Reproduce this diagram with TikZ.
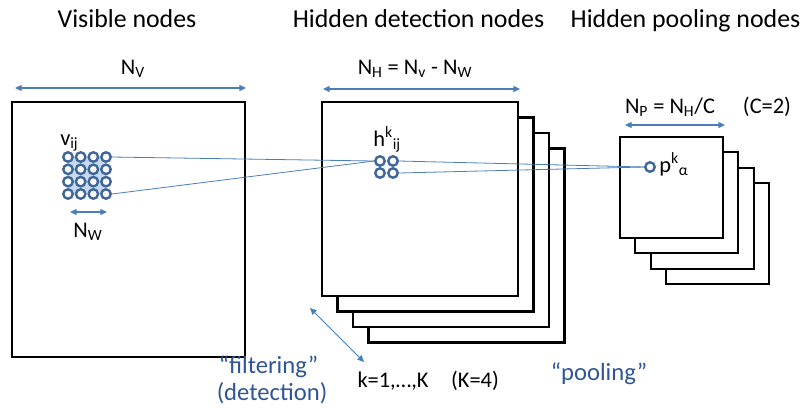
\documentclass[tikz,border=0pt]{standalone}
\usepackage{fontspec}
\setmainfont{Carlito}
\usetikzlibrary{arrows.meta}
\definecolor{arrblue}{HTML}{4A7EBB}
\definecolor{nodeblue}{HTML}{3F6699}
\definecolor{txtblue}{HTML}{2F5597}
\definecolor{fillblue}{HTML}{C6D9F1}
\tikzset{
  title/.style={font=\fontsize{19.4}{22}\selectfont, inner sep=0pt, anchor=base},
  lbl/.style={font=\fontsize{16.8}{20}\selectfont, inner sep=0pt, anchor=base},
  bluelbl/.style={font=\fontsize{18.5}{22}\selectfont, text=txtblue, inner sep=0pt, anchor=base},
  dimarrow/.style={draw=arrblue, line width=0.9pt, {Triangle[length=5pt,width=4.5pt]}-{Triangle[length=5pt,width=4.5pt]}},
  sheet/.style={draw=black, line width=2pt, fill=white},
  unit/.style={circle, draw=nodeblue, line width=1.8pt, fill=white, minimum size=7.1pt, inner sep=0pt},
  link/.style={draw=arrblue, line width=0.6pt},
}
\begin{document}
\begin{tikzpicture}[x=0.75pt,y=-0.75pt]
\useasboundingbox (0,0) rectangle (805,408);

% titles
\node[title] (tv) at (127,27) {Visible nodes};
\node[title] (th) at (418.5,27) {Hidden detection nodes};
\node[title] (tp) at (685.5,27) {Hidden pooling nodes};

% visible layer
\draw[sheet] (12,102) rectangle (245,357);
\coordinate (nvl) at (15,88);
\coordinate (nvr) at (246,88);
\draw[dimarrow] (nvl) -- (nvr);
\node[lbl] (nv) at (133,74) {N\textsubscript{V}};

\fill[fillblue] (68,157) rectangle (106,194);
\foreach \i in {1,...,4} {
  \foreach \j in {1,...,4} {
    \node[unit] (v\j\i) at ({68+(\i-1)*12.67},{157+(\j-1)*12.33}) {};
  }
}
\node[lbl, anchor=base west] (vlab) at (60,145) {v\textsubscript{ij}};
\coordinate (nwl) at (70,212);
\coordinate (nwr) at (107,212);
\draw[dimarrow] (nwl) -- (nwr);
\node[lbl] (nw) at (88,237) {N\textsubscript{W}};

% hidden detection layer
\draw[sheet] (368.5,148.5) rectangle (564.5,342.5);
\draw[sheet] (353,133) rectangle (549,327);
\draw[sheet] (337.5,117.5) rectangle (533.5,311.5);
\draw[sheet] (322,102) rectangle (518,296);
\coordinate (nhl) at (323,89);
\coordinate (nhr) at (520,89);
\draw[dimarrow] (nhl) -- (nhr);
\node[lbl] (nh) at (415,74) {N\textsubscript{H} = N\textsubscript{v} - N\textsubscript{W}};

\node[unit] (h11) at (380,161) {};
\node[unit] (h12) at (393,161) {};
\node[unit] (h21) at (380,173) {};
\node[unit] (h22) at (393,173) {};
\node[lbl, anchor=base west] (hlab) at (373,146) {h\textsuperscript{k}\textsubscript{ij}};

% pooling layer
\draw[sheet] (666,183) rectangle (769,284);
\draw[sheet] (651,168) rectangle (754,269);
\draw[sheet] (635,152) rectangle (738,253);
\draw[sheet] (620,137) rectangle (723,238);
\coordinate (npl) at (625,125);
\coordinate (npr) at (725,125);
\draw[dimarrow] (npl) -- (npr);
\node[lbl] (np) at (670,113) {N\textsubscript{P} = N\textsubscript{H}/C};
\node[lbl] (cc) at (767,113) {(C=2)};

\node[unit] (p) at (650,167) {};
\node[lbl, anchor=base west] (plab) at (659,172) {p\textsuperscript{k}\textsubscript{α}};

% connections
\draw[link] (v14.east) -- (h11.west);
\draw[link] (v44.east) -- (h11.west);
\draw[link] (h12.east) -- (p.west);
\draw[link] (h22.east) -- (p.west);

% bottom labels
\coordinate (fa) at (310,308);
\coordinate (fb) at (364,362);
\draw[dimarrow, line width=0.6pt] (fa) -- (fb);
\node[bluelbl] (filt) at (268.5,373) {“filtering”};
\node[bluelbl] (det) at (272,400) {(detection)};
\node[lbl] (kk) at (393,387) {k=1,…,K};
\node[lbl] (k4) at (475,387) {(K=4)};
\node[bluelbl] (pool) at (599,380) {“pooling”};
\end{tikzpicture}
\end{document}
